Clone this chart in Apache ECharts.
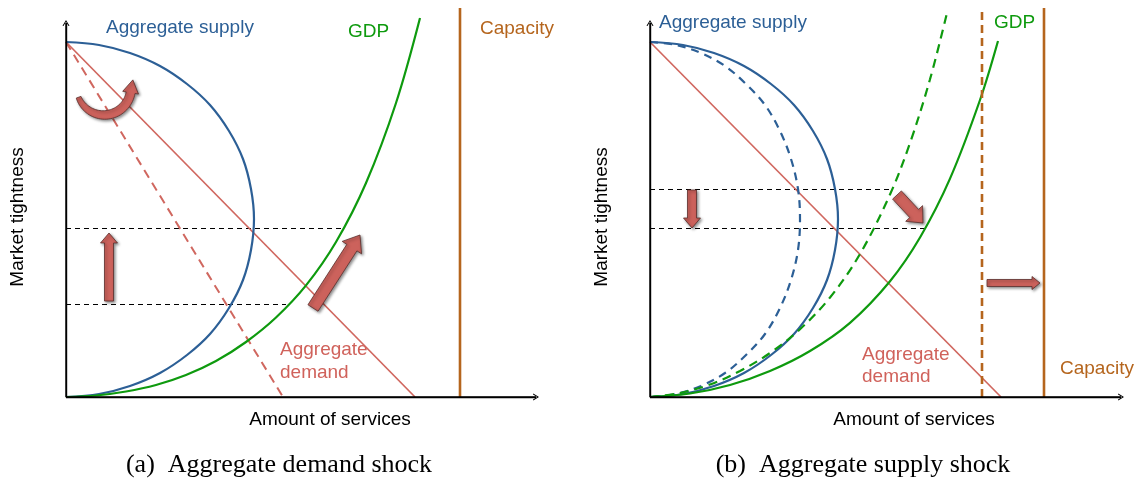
<!DOCTYPE html>
<html><head><meta charset="utf-8">
<script src="https://cdn.jsdelivr.net/npm/echarts@6/dist/echarts.min.js"></script>
<style>html,body{margin:0;padding:0;background:#fff}#c{width:1136px;height:478px}</style>
</head><body><div id="c"></div>
<script>
// ---- Panel (a): aggregate demand shock (x = amount of services, y = market tightness) ----
const aSupply = [[0,355],[33,352],[64,344],[94,331],[121,313],[144,292],[163,266],[177,238],[185,208],[188,178],[185,147],[177,117],[163,89],[144,63],[121,42],[94,24],[64,11],[33,3],[0,0]];
const aDemand = [[0,355],[349,0]];
const aDemandShifted = [[0,355],[217,0]];
const aGdp = [[0,0],[30,1.5],[60,5.5],[90,12],[120,22],[150,36],[180,55],[210,79.5],[240,111.6],[270,155],[300,214],[330,294],[354,379]];
const aLevelHigh = [[0,168.5],[277,168.5]];
const aLevelLow = [[0,92.5],[220,92.5]];
const aCapacity = [[394,0],[394,389]];
const aAxes = [[0,374],[0,0],[470,0]];
const aArrows = [[43,96,43,164],[247,89,294,162]];
const aCurvedArrow = [[38,309,27,160,10]];

// ---- Panel (b): aggregate supply shock ----
const bSupply = [[0,355],[33,352],[64,344],[94,331],[121,313],[144,292],[163,266],[177,238],[185,208],[188,178],[185,147],[177,117],[163,89],[144,63],[121,42],[94,24],[64,11],[33,3],[0,0]];
const bSupplyShifted = [[0,355],[26,352],[51,344],[75,331],[96,313],[115,292],[130,266],[141,238],[148,208],[150,178],[148,147],[141,117],[130,89],[115,63],[96,42],[75,24],[51,11],[26,3],[0,0]];
const bDemand = [[0,355],[351,0]];
const bGdp = [[0,0],[40,3.5],[80,12],[120,26],[160,46],[200,74.2],[240,115.8],[270,159.5],[300,218.4],[330,297],[348,356]];
const bGdpShifted = [[0,0],[30,4],[60,12.5],[90,26],[120,44],[150,67.8],[180,99.5],[210,143],[240,202.5],[260,254],[280,317.7],[297,384]];
const bLevelHigh = [[0,207.5],[242,207.5]];
const bLevelLow = [[0,168.5],[275,168.5]];
const bCapacityOld = [[332,0],[332,389]];
const bCapacityNew = [[394,0],[394,389]];
const bAxes = [[0,374],[0,0],[471,0]];
const bArrows = [[42,207,42,169],[247,202,273,174],[337,114,390,114]];

// ---- styles ----
const C = {blue:'#2c5f96', red:'#d0675f', redText:'#d0625b', green:'#0e9a0e', brown:'#b5651d',
  arrowFill:'#cc625c', arrowStroke:'#5a2f2c'};
const FONT = '"Liberation Sans", Arial, sans-serif';
const SERIF = '"Liberation Serif", "Times New Roman", serif';
const arrowSizes = {
  a: [{shaft:9, head:17, len:10}, {shaft:12, head:23, len:15}],
  b: [{shaft:9, head:17, len:10}, {shaft:12, head:23, len:13}, {shaft:7, head:13, len:8}]
};
const chevron = 'path://M0,10 L5,0 L10,10 L8.6,10.6 L5,3.2 L1.4,10.6 Z';
const arrowShadow = {shadowBlur:3, shadowOffsetX:1.5, shadowOffsetY:1.5, shadowColor:'rgba(0,0,0,0.45)'};

function lineS(data, idx, color, width, type, extra) {
  return Object.assign({type:'line', data, xAxisIndex:idx, yAxisIndex:idx, showSymbol:false, symbol:'none',
    silent:true, animation:false, lineStyle:{color, width, type}}, extra || {});
}
function curve(data, idx, color, width, type) {
  return lineS(data, idx, color, width, type, {smooth:0.35});
}
function axesS(data, idx) {
  const last = data[data.length-1], top = data[0];
  return lineS(data, idx, '#000', 1.4, 'solid', {
    markLine: {silent:true, animation:false, symbol:['none', chevron], symbolSize:[7,6],
      label:{show:false}, lineStyle:{color:'#000', width:1.4, type:'solid'},
      data: [[{coord:[0,0]},{coord:top}], [{coord:[0,0]},{coord:last}]]}
  });
}
function blockArrows(data, idx, sizes) {
  return {type:'custom', xAxisIndex:idx, yAxisIndex:idx, data, silent:true, animation:false,
    encode:{x:[0,2], y:[1,3]}, z:5,
    renderItem: function(params, api) {
      const s = sizes[params.dataIndex];
      const p1 = api.coord([api.value(0), api.value(1)]);
      const p2 = api.coord([api.value(2), api.value(3)]);
      const dx = p2[0]-p1[0], dy = p2[1]-p1[1], L = Math.hypot(dx,dy);
      const ux = dx/L, uy = dy/L, nx = -uy, ny = ux;
      const hb = [p2[0]-ux*s.len, p2[1]-uy*s.len];
      const pt = (b, k) => [b[0]+nx*k, b[1]+ny*k];
      const pts = [pt(p1, s.shaft/2), pt(hb, s.shaft/2), pt(hb, s.head/2), p2,
                   pt(hb, -s.head/2), pt(hb, -s.shaft/2), pt(p1, -s.shaft/2)];
      return {type:'polygon', shape:{points:pts},
        style:Object.assign({fill:C.arrowFill, stroke:C.arrowStroke, lineWidth:0.8}, arrowShadow)};
    }};
}
function curvedArrow(data, idx) {
  return {type:'custom', xAxisIndex:idx, yAxisIndex:idx, data, silent:true, animation:false,
    encode:{x:0, y:1}, z:5,
    renderItem: function(params, api) {
      const c = api.coord([api.value(0), api.value(1)]);
      const r = api.size([api.value(2), 0])[0];
      const a0 = api.value(3)*Math.PI/180, a1 = api.value(4)*Math.PI/180;
      const N = 40, outer = [], inner = [];
      for (let i=0;i<=N;i++) {
        const t = i/N, th = a0 + (a1-a0)*t;
        const w = 5 + 4*Math.sin(Math.PI*Math.min(t,0.7)/1.4);
        outer.push([c[0]+(r+w/2)*Math.cos(th), c[1]+(r+w/2)*Math.sin(th)]);
        inner.push([c[0]+(r-w/2)*Math.cos(th), c[1]+(r-w/2)*Math.sin(th)]);
      }
      const rx = Math.cos(a1), ry = Math.sin(a1);
      const e = [c[0]+r*rx, c[1]+r*ry];
      const ux = Math.sin(a1), uy = -Math.cos(a1);
      const hw = 8, len = 13;
      const pts = outer.concat([[e[0]+rx*hw, e[1]+ry*hw], [e[0]+ux*len, e[1]+uy*len], [e[0]-rx*hw, e[1]-ry*hw]], inner.reverse());
      return {type:'polygon', shape:{points:pts},
        style:Object.assign({fill:C.arrowFill, stroke:C.arrowStroke, lineWidth:0.8}, arrowShadow)};
    }};
}
function txt(text, x, y, color, opts) {
  opts = opts || {};
  return {type:'text', x, y, rotation: opts.rotation || 0, silent:true,
    style:{text, fill:color, font: (opts.size||19) + 'px ' + (opts.font||FONT),
      align: opts.align || 'left', verticalAlign:'middle'}};
}

const chart = echarts.init(document.getElementById('c'), null, {renderer:'canvas'});
chart.setOption({
  animation:false,
  backgroundColor:'#fff',
  grid:[{left:66, top:5, width:480, height:392}, {left:650, top:5, width:480, height:392}],
  xAxis:[{type:'value', gridIndex:0, min:0, max:480, show:false},
         {type:'value', gridIndex:1, min:0, max:480, show:false}],
  yAxis:[{type:'value', gridIndex:0, min:0, max:392, show:false},
         {type:'value', gridIndex:1, min:0, max:392, show:false}],
  series:[
    // panel a
    lineS(aLevelHigh, 0, '#000', 1, [5,4]),
    lineS(aLevelLow, 0, '#000', 1, [5,4]),
    lineS(aDemandShifted, 0, C.red, 2, [9,6]),
    lineS(aDemand, 0, C.red, 1.7, 'solid'),
    curve(aSupply, 0, C.blue, 2.2, 'solid'),
    curve(aGdp, 0, C.green, 2.2, 'solid'),
    lineS(aCapacity, 0, C.brown, 2.6, 'solid'),
    axesS(aAxes, 0),
    blockArrows(aArrows, 0, arrowSizes.a),
    curvedArrow(aCurvedArrow, 0),
    // panel b
    lineS(bLevelHigh, 1, '#000', 1, [5,4]),
    lineS(bLevelLow, 1, '#000', 1, [5,4]),
    lineS(bDemand, 1, C.red, 1.7, 'solid'),
    curve(bSupplyShifted, 1, C.blue, 2.2, [8,6]),
    curve(bSupply, 1, C.blue, 2.2, 'solid'),
    curve(bGdpShifted, 1, C.green, 2.2, [9,6]),
    curve(bGdp, 1, C.green, 2.2, 'solid'),
    lineS(bCapacityOld, 1, C.brown, 2.6, [8,5]),
    lineS(bCapacityNew, 1, C.brown, 2.6, 'solid'),
    axesS(bAxes, 1),
    blockArrows(bArrows, 1, arrowSizes.b)
  ],
  graphic:[
    txt('Aggregate supply', 106, 28, C.blue),
    txt('GDP', 348, 32, C.green),
    txt('Capacity', 480, 29, C.brown),
    txt('Aggregate', 280, 350, C.redText),
    txt('demand', 280, 373, C.redText),
    txt('Market tightness', 18, 217, '#000', {align:'center', rotation:Math.PI/2}),
    txt('Amount of services', 330, 420, '#000', {align:'center'}),
    txt('(a)  Aggregate demand shock', 279, 465, '#000', {align:'center', size:26, font:SERIF}),
    txt('Aggregate supply', 659, 23, C.blue),
    txt('GDP', 994, 23, C.green),
    txt('Capacity', 1060, 369, C.brown),
    txt('Aggregate', 862, 355, C.redText),
    txt('demand', 862, 377, C.redText),
    txt('Market tightness', 602, 217, '#000', {align:'center', rotation:Math.PI/2}),
    txt('Amount of services', 914, 420, '#000', {align:'center'}),
    txt('(b)  Aggregate supply shock', 863, 465, '#000', {align:'center', size:26, font:SERIF})
  ]
});
</script></body></html>
